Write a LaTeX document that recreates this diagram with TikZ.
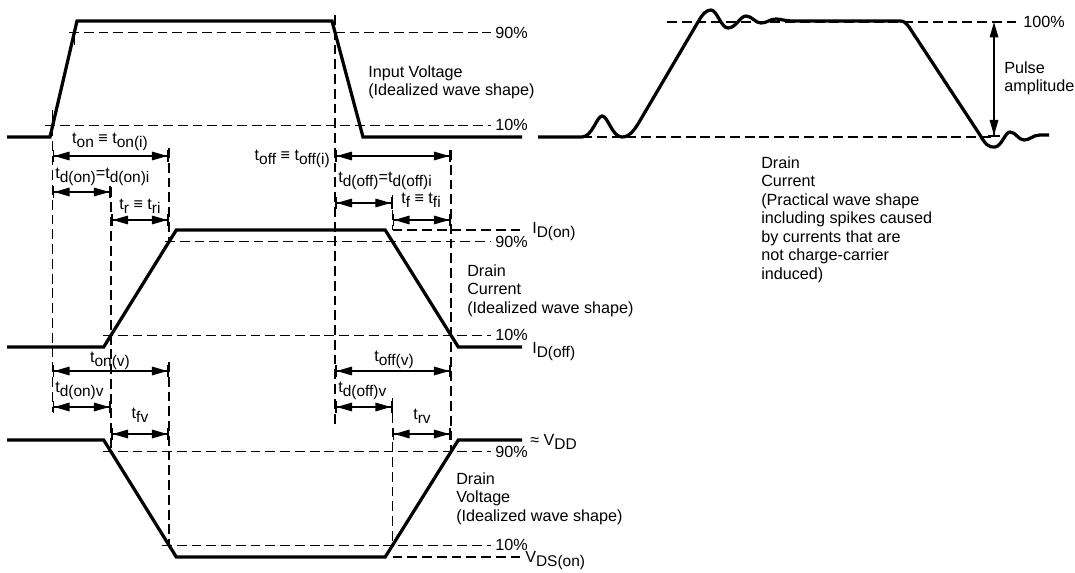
\documentclass[tikz,border=0pt]{standalone}
\usepackage{fontspec}
\setmainfont{Liberation Sans}
\usetikzlibrary{arrows.meta}
\newcommand{\lo}[1]{\raisebox{-0.5ex}{\fontsize{11}{11}\selectfont #1}}

\begin{document}
\begin{tikzpicture}[x=0.025cm, y=-0.025cm,
      every node/.append style={font=\fontsize{11.5}{13.2}\selectfont, inner sep=0pt},
      wave/.style={line width=2.3pt, line join=miter},
      guide/.style={line width=0.9pt, dash pattern=on 7pt off 3.5pt},
      timespan/.style={line width=1.2pt,
        {Bar[width=9pt,line width=1.1pt]Triangle[length=11pt,width=6pt]}-{Triangle[length=11pt,width=6pt]Bar[width=9pt,line width=1.1pt]}}]
    \tikzstyle{pct} = [anchor=west]
    \tikzstyle{note} = [anchor=north west, align=left]
    \useasboundingbox (0,0) rectangle (1075,572);

    \draw[guide] (69,32.6) -- (491,32.6);
    \draw[guide] (45,125.4) -- (491,125.4);
    \draw[guide] (392.5,230) -- (523,230);
    \draw[guide] (165,241.7) -- (491,241.7);
    \draw[guide] (103,335.3) -- (491,335.3);
    \draw[guide] (103,451.7) -- (491,451.7);
    \draw[guide] (162,545.3) -- (491,545.3);
    \draw[guide] (392.5,557) -- (523,557);
    \draw[guide] (52.5,126) -- (52.5,412);
    \draw[guide] (111,187) -- (111,452);
    \draw[guide] (169,148) -- (169,242);
    \draw[guide] (169,362) -- (169,545);
    \draw[guide] (335,15) -- (335,427);
    \draw[guide] (392.5,195) -- (392.5,230);
    \draw[guide] (392.5,398) -- (392.5,545);
    \draw[guide] (451,150) -- (451,452);
    \draw[guide] (667,22) -- (1018,22);
    \draw[guide] (538,137) -- (993,137);

    \draw[wave] (7,137) -- (50,137) -- (77,21) -- (332,21) -- (363,137) -- (522,137);
    \draw[line width=1pt] (52.6,110) -- (52.6,126);
    \draw[line width=1pt] (74.5,32) -- (74.5,45);
    \draw[wave] (7,347) -- (103.7,347) -- (176.3,230) -- (385.2,230) -- (458.3,347) -- (522,347);
    \draw[wave] (7,440) -- (103.7,440) -- (176.3,557) -- (385.2,557) -- (458.3,440) -- (522,440);
    \draw[wave] (538,137) -- (582,137) .. controls (592,137) and (597,116) .. (602,116)
      .. controls (608,116) and (612,137) .. (622,137) .. controls (630,137) and (634,130) .. (638,124)
      -- (698,22) .. controls (703,13) and (707,10) .. (711,10) .. controls (717,10) and (721,28) .. (728,28)
      .. controls (736,28) and (740,16) .. (746,16) .. controls (752,16) and (755,23) .. (761,23)
      .. controls (767,23) and (770,19) .. (776,19) .. controls (781,19) and (785,21) .. (792,21)
      -- (900,21) .. controls (904,21) and (906,23) .. (909,27) -- (980,135)
      .. controls (985,144) and (989,148) .. (995,147) .. controls (1002,146) and (1005,132) .. (1010,132)
      .. controls (1016,132) and (1018,140) .. (1024,140) .. controls (1030,140) and (1033,135) .. (1040,135)
      -- (1049,135);

    \node[pct] (in90) at (495,32.6) {90\%};
    \node[pct] (in10) at (495,125.4) {10\%};
    \node[anchor=base west] (idon) at (532,233) {I\lo{D(on)}};
    \node[pct] (id90) at (495,241.7) {90\%};
    \node[pct] (id10) at (495,335.3) {10\%};
    \node[anchor=base west] (idoff) at (532,353) {I\lo{D(off)}};
    \node[anchor=base west] (vdd) at (530,445) {≈ V\lo{DD}};
    \node[pct] (vd90) at (495,451.7) {90\%};
    \node[pct] (vd10) at (495,545.3) {10\%};
    \node[anchor=base west] (vdson) at (525,562) {V\lo{DS(on)}};
    \node[pct] (p100) at (1023,22) {100\%};

    \node[note] (vin) at (368,65) {Input Voltage\\(Idealized wave shape)};
    \node[note] (idnote) at (467,264) {Drain\\Current\\(Idealized wave shape)};
    \node[note] (vdnote) at (456,472) {Drain\\Voltage\\(Idealized wave shape)};
    \node[note] (prac) at (761,156) {Drain\\Current\\(Practical wave shape\\including spikes caused\\by currents that are\\not charge-carrier\\induced)};
    \node[note] (amp) at (1004,61) {Pulse\\amplitude};

    \coordinate (on-a) at (52.5,156);   \coordinate (on-c) at (169,156);
    \coordinate (don-a) at (52.5,192);  \coordinate (don-b) at (111,192);
    \coordinate (r-b) at (111,220);     \coordinate (r-c) at (169,220);
    \coordinate (off-d) at (335,156);   \coordinate (off-f) at (451,156);
    \coordinate (doff-d) at (335,203);  \coordinate (doff-e) at (392.5,203);
    \coordinate (f-e) at (392.5,220);   \coordinate (f-f) at (451,220);
    \coordinate (onv-a) at (52.5,371);  \coordinate (onv-c) at (169,371);
    \coordinate (donv-a) at (52.5,407); \coordinate (donv-b) at (111,407);
    \coordinate (fv-b) at (111,434);    \coordinate (fv-c) at (169,434);
    \coordinate (offv-d) at (335,371);  \coordinate (offv-f) at (451,371);
    \coordinate (doffv-d) at (335,407); \coordinate (doffv-e) at (392.5,407);
    \coordinate (rv-e) at (392.5,434);  \coordinate (rv-f) at (451,434);
    \coordinate (amp-top) at (994,22);  \coordinate (amp-bot) at (994,137);

    \draw[timespan] (on-a) -- (on-c);
    \draw[timespan] (don-a) -- (don-b);
    \draw[timespan] (r-b) -- (r-c);
    \draw[timespan] (off-d) -- (off-f);
    \draw[timespan] (doff-d) -- (doff-e);
    \draw[timespan] (f-e) -- (f-f);
    \draw[timespan] (onv-a) -- (onv-c);
    \draw[timespan] (donv-a) -- (donv-b);
    \draw[timespan] (fv-b) -- (fv-c);
    \draw[timespan] (offv-d) -- (offv-f);
    \draw[timespan] (doffv-d) -- (doffv-e);
    \draw[timespan] (rv-e) -- (rv-f);
    \draw[line width=1.2pt, {Triangle[length=11pt,width=6pt]}-{Triangle[length=11pt,width=6pt]Bar[width=9pt,line width=1.1pt]}] (amp-top) -- (amp-bot);

    \node[anchor=base] (ton) at (110,143) {t\lo{on} ≡ t\lo{on(i)}};
    \node[anchor=base west] (tdon) at (55,178) {t\lo{d(on)}=t\lo{d(on)i}};
    \node[anchor=base] (tr) at (140,209) {t\lo{r} ≡ t\lo{ri}};
    \node[anchor=base east] (toff) at (330,160) {t\lo{off} ≡ t\lo{off(i)}};
    \node[anchor=base west] (tdoff) at (338,182) {t\lo{d(off)}=t\lo{d(off)i}};
    \node[anchor=base] (tf) at (421,203) {t\lo{f} ≡ t\lo{fi}};
    \node[anchor=base] (tonv) at (110,362) {t\lo{on(v)}};
    \node[anchor=base west] (tdonv) at (55,392) {t\lo{d(on)v}};
    \node[anchor=base] (tfv) at (140,418) {t\lo{fv}};
    \node[anchor=base] (toffv) at (394,361) {t\lo{off(v)}};
    \node[anchor=base west] (tdoffv) at (338,392) {t\lo{d(off)v}};
    \node[anchor=base] (trv) at (422,419) {t\lo{rv}};
\end{tikzpicture}
\end{document}
